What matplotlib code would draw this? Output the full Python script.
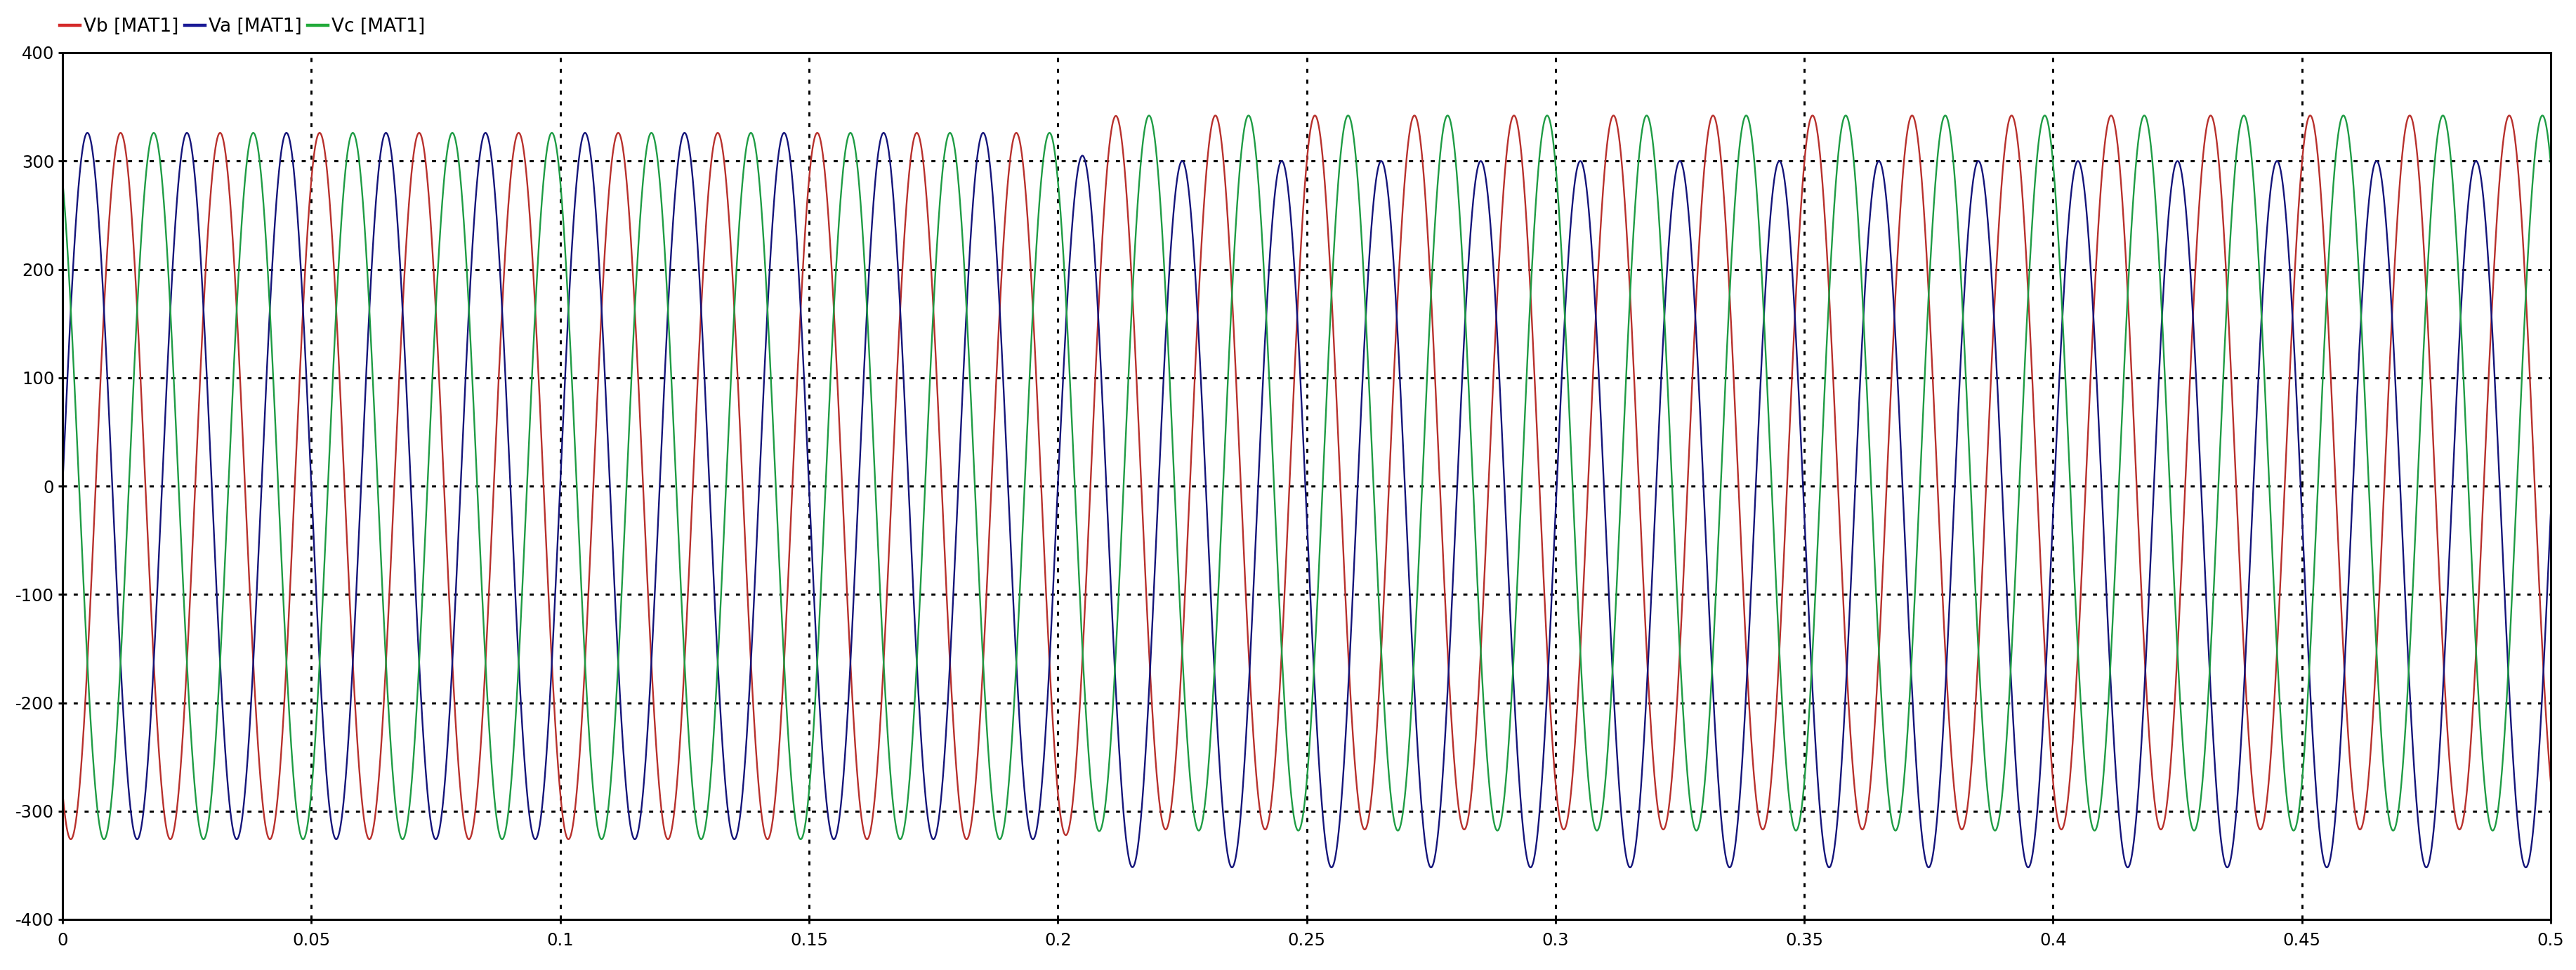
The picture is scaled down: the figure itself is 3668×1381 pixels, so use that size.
import numpy as np
import matplotlib
matplotlib.use("Agg")
import matplotlib.pyplot as plt
from matplotlib.ticker import FuncFormatter, MultipleLocator

# three phase voltages
phase_names = ["Vb [MAT1]", "Va [MAT1]", "Vc [MAT1]"]
phase_shift_deg = [-120, 0, 120]        # Va peaks at t = 0.005 s
peak_before = [326, 326, 326]           # before the disturbance
peak_after = [342, 300, 342]            # steady peaks after 0.2 s
trough_after = [-317, -352, -318]       # steady troughs after 0.2 s
line_colors = ["#b8302c", "#14147a", "#1e9c44"]
legend_colors = ["#d42a2a", "#1a1a96", "#22aa3a"]

freq = 50.0
t_change = 0.2
tau = 0.003
t_end = 0.5

plt.rcParams["axes.unicode_minus"] = False
plt.rcParams["font.family"] = ["DejaVu Sans"]

t = np.linspace(0, t_end, 20001)
# how far the step after t_change has settled
settle = np.where(t < t_change, 0.0, 1 - np.exp(-(t - t_change) / tau))

W, H = 3668, 1381
fig = plt.figure(figsize=(W / 100, H / 100), dpi=100)
left, right, top, bottom = 89, 3632, 75, 1309
ax = fig.add_axes([left / W, 1 - bottom / H, (right - left) / W, (bottom - top) / H])

for i in range(3):
    amp_after = (peak_after[i] - trough_after[i]) / 2
    off_after = (peak_after[i] + trough_after[i]) / 2
    amp = peak_before[i] + (amp_after - peak_before[i]) * settle
    off = off_after * settle
    v = off + amp * np.sin(2 * np.pi * freq * t + np.deg2rad(phase_shift_deg[i]))
    ax.plot(t, v, color=line_colors[i], lw=1.7, label=phase_names[i])

ax.set_xlim(0, t_end)
ax.set_ylim(-400, 400)
ax.xaxis.set_major_locator(MultipleLocator(0.05))
ax.yaxis.set_major_locator(MultipleLocator(100))
ax.xaxis.set_major_formatter(FuncFormatter(lambda v, p: f"{v:g}"))
ax.yaxis.set_major_formatter(FuncFormatter(lambda v, p: f"{v:g}"))

ax.grid(True, color="black", linestyle=(0, (2, 3.3)), linewidth=2.1)
ax.set_axisbelow(True)
for s in ax.spines.values():
    s.set_linewidth(2.2)
    s.set_color("black")

ax.tick_params(axis="y", direction="out", length=4.5, width=2, pad=4, labelsize=17.5)
ax.tick_params(axis="x", direction="inout", length=8, width=2, pad=9, labelsize=17.5)

leg = ax.legend(loc="center left", bbox_to_anchor=(85 / W, 1 - 38 / H),
                bbox_transform=fig.transFigure, ncol=3, frameon=False,
                fontsize=19, handlelength=1.1, handletextpad=0.2,
                columnspacing=0.3, borderaxespad=0, borderpad=0)
for h, c in zip(leg.legend_handles, legend_colors):
    h.set_color(c)
    h.set_linewidth(3.2)

fig.savefig("out.png", dpi=100, facecolor="white")
